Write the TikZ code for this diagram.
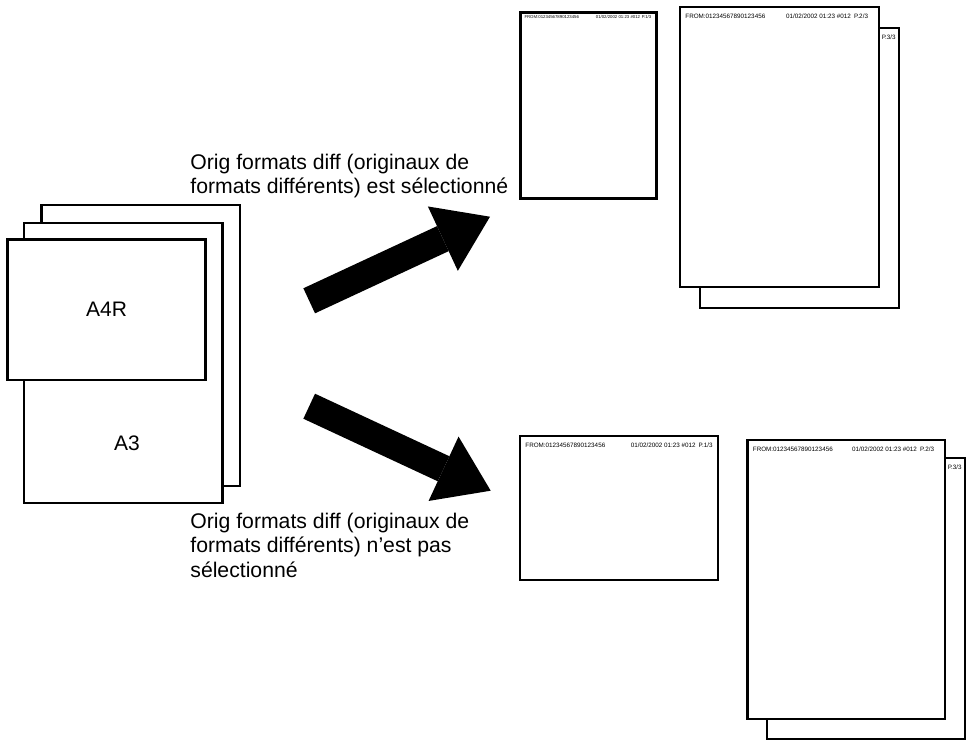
\documentclass[tikz,border=0pt]{standalone}
\usepackage{fontspec}
\setmainfont{Liberation Sans}
\usetikzlibrary{arrows.meta,positioning,calc}

\begin{document}
\begin{tikzpicture}[x=0.5pt,y=-0.5pt,
  sheet/.style={draw,line width=1.25pt,fill=white,inner sep=0pt,outer sep=0pt,font=\fontsize{10.5}{12.6}\selectfont},
  hdr/.style={inner sep=0pt,font=\fontsize{3.15}{3.6}\selectfont},
  shdr/.style={inner sep=0pt,font=\fontsize{2.15}{2.5}\selectfont},
  captext/.style={inner sep=0pt,align=left,anchor=north west,font=\fontsize{10.6}{12.2}\selectfont},
  bigarrow/.style={line width=13.8pt,-{Triangle[length=26pt,width=35.5pt,line width=0pt]}}]
\useasboundingbox (0,0) rectangle (967,740);
\node[sheet,minimum width=99.2pt,minimum height=140.5pt] (backsheet) at (140.9,345.5) {};
\node[sheet,minimum width=99.2pt,minimum height=140pt] (a3sheet) at (123.4,362.9) {};
\node (a3lbl) at (127,443) {\fontsize{10.5}{12.6}\selectfont A3};
\node[sheet,minimum width=99.2pt,minimum height=70.4pt] (a4rsheet) at (106.5,309.7) {A4R};
\node[captext] (selcap) at (190,153.4) {Orig formats diff (originaux de\\formats différents) est sélectionné};
\node[captext] (nselcap) at (190,512.8) {Orig formats diff (originaux de\\formats différents) n’est pas\\sélectionné};
\coordinate (upTail) at (309.2,300.8);
\coordinate (upTip) at (490,216.7);
\coordinate (dnTail) at (309.2,406.2);
\coordinate (dnTip) at (490.7,490.7);
\draw[bigarrow] (upTail) -- (upTip);
\draw[bigarrow] (dnTail) -- (dnTip);
\node[sheet,minimum width=68pt,minimum height=93pt] (p1top) at (588.7,105.5) {};
\node[shdr,anchor=west] (p1topfrom) at ([shift={(1.7pt,-2.3pt)}]p1top.north west) {FROM:01234567890123456};
\node[shdr,anchor=east] (p1topdate) at ([shift={(-2.5pt,-2.3pt)}]p1top.north east) {01/02/2002 01:23 \#012\hspace{0.4em}P.1/3};
\node[sheet,minimum width=99.5pt,minimum height=140pt] (p3top) at (799.5,168) {};
\node[sheet,minimum width=99.5pt,minimum height=140pt] (p2top) at (779.5,147) {};
\node[hdr,anchor=west] (p2topfrom) at ([shift={(2.5pt,-4.6pt)}]p2top.north west) {FROM:01234567890123456};
\node[hdr,anchor=east] (p2topdate) at ([shift={(-5.3pt,-4.6pt)}]p2top.north east) {01/02/2002 01:23 \#012\hspace{0.5em}P.2/3};
\node[hdr,anchor=west] (p3toppg) at ($(p2top.east |- p3top.north)+(1.2pt,-4.6pt)$) {P.3/3};
\node[sheet,minimum width=99pt,minimum height=72pt] (p1bot) at (619,508) {};
\node[hdr,anchor=west] (p1botfrom) at ([shift={(2.5pt,-4.6pt)}]p1bot.north west) {FROM:01234567890123456};
\node[hdr,anchor=east] (p1botdate) at ([shift={(-2.5pt,-4.6pt)}]p1bot.north east) {01/02/2002 01:23 \#012\hspace{0.5em}P.1/3};
\node[sheet,minimum width=99pt,minimum height=140.5pt] (p3bot) at (866,598.5) {};
\node[sheet,minimum width=98.75pt,minimum height=139.5pt] (p2bot) at (846.25,579.5) {};
\node[hdr,anchor=west] (p2botfrom) at ([shift={(2.5pt,-4.6pt)}]p2bot.north west) {FROM:01234567890123456};
\node[hdr,anchor=east] (p2botdate) at ([shift={(-5.3pt,-4.6pt)}]p2bot.north east) {01/02/2002 01:23 \#012\hspace{0.5em}P.2/3};
\node[hdr,anchor=west] (p3botpg) at ($(p2bot.east |- p3bot.north)+(1.2pt,-4.8pt)$) {P.3/3};
\end{tikzpicture}
\end{document}
